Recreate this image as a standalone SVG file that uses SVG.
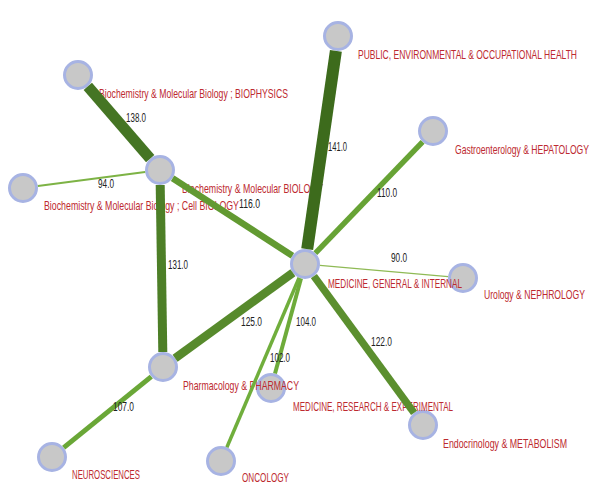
<svg xmlns="http://www.w3.org/2000/svg" width="591" height="484" viewBox="0 0 591 484">
<style>
.n{fill:#c8c8c8;stroke:#a7b3e3;stroke-width:3}
.t{font-family:"Liberation Sans",Arial,sans-serif;font-size:13px;fill:#bd2a30}
.e{fill:none;stroke-linecap:butt}
.w{font-family:"Liberation Sans",Arial,sans-serif;font-size:12px;fill:#222}
</style>
<rect width="591" height="484" fill="#fff"/>
<g id="node-biophysics"><circle class="n" cx="78" cy="75" r="13.5"/><text class="t" x="99" y="97.8" textLength="189" lengthAdjust="spacingAndGlyphs">Biochemistry &amp; Molecular Biology ; BIOPHYSICS</text></g>
<g id="node-cellbiology"><circle class="n" cx="23" cy="188" r="13.5"/><text class="t" x="44" y="209.8" textLength="195" lengthAdjust="spacingAndGlyphs">Biochemistry &amp; Molecular Biology ; Cell BIOLOGY</text></g>
<g id="node-biochem"><circle class="n" cx="160" cy="170" r="13.5"/><text class="t" x="182" y="192.8" textLength="141" lengthAdjust="spacingAndGlyphs">Biochemistry &amp; Molecular BIOLOGY</text></g>
<g id="node-publichealth"><circle class="n" cx="338" cy="36" r="13.5"/><text class="t" x="358" y="58.8" textLength="219" lengthAdjust="spacingAndGlyphs">PUBLIC, ENVIRONMENTAL &amp; OCCUPATIONAL HEALTH</text></g>
<g id="node-gastro"><circle class="n" cx="433" cy="131" r="13.5"/><text class="t" x="455" y="153.8" textLength="134" lengthAdjust="spacingAndGlyphs">Gastroenterology &amp; HEPATOLOGY</text></g>
<g id="node-urology"><circle class="n" cx="463" cy="278" r="13.5"/><text class="t" x="484" y="298.8" textLength="101" lengthAdjust="spacingAndGlyphs">Urology &amp; NEPHROLOGY</text></g>
<g id="node-medgeneral"><circle class="n" cx="305" cy="264" r="13.5"/><text class="t" x="328" y="287.8" textLength="134" lengthAdjust="spacingAndGlyphs">MEDICINE, GENERAL &amp; INTERNAL</text></g>
<g id="node-endocrinology"><circle class="n" cx="423" cy="425" r="13.5"/><text class="t" x="443" y="447.8" textLength="124" lengthAdjust="spacingAndGlyphs">Endocrinology &amp; METABOLISM</text></g>
<g id="node-medresearch"><circle class="n" cx="271" cy="388" r="13.5"/><text class="t" x="293" y="410.8" textLength="160" lengthAdjust="spacingAndGlyphs">MEDICINE, RESEARCH &amp; EXPERIMENTAL</text></g>
<g id="node-pharmacology"><circle class="n" cx="163" cy="367" r="13.5"/><text class="t" x="183" y="389.8" textLength="116" lengthAdjust="spacingAndGlyphs">Pharmacology &amp; PHARMACY</text></g>
<g id="node-neurosciences"><circle class="n" cx="52" cy="457" r="13.5"/><text class="t" x="72" y="478.8" textLength="68" lengthAdjust="spacingAndGlyphs">NEUROSCIENCES</text></g>
<g id="node-oncology"><circle class="n" cx="221" cy="461" r="13.5"/><text class="t" x="242" y="482" textLength="47" lengthAdjust="spacingAndGlyphs">ONCOLOGY</text></g>
<g id="connectors">
<line class="e" x1="87.8" y1="86.4" x2="150.2" y2="158.6" stroke="#457524" stroke-width="11"/>
<line class="e" x1="37.9" y1="186" x2="145.1" y2="172" stroke="#7db345" stroke-width="2"/>
<line class="e" x1="172.6" y1="178.2" x2="292.4" y2="255.8" stroke="#629a31" stroke-width="6.5"/>
<line class="e" x1="160.2" y1="185" x2="162.8" y2="352" stroke="#4d7f27" stroke-width="9"/>
<line class="e" x1="335.9" y1="50.8" x2="307.2" y2="249.2" stroke="#3d6b1c" stroke-width="12"/>
<line class="e" x1="422.6" y1="141.8" x2="315.4" y2="253.2" stroke="#67a335" stroke-width="5.5"/>
<line class="e" x1="448.1" y1="276.7" x2="319.9" y2="265.3" stroke="#8fba55" stroke-width="1.2"/>
<line class="e" x1="414.1" y1="412.9" x2="313.9" y2="276.1" stroke="#5b8f2e" stroke-width="7.5"/>
<line class="e" x1="175.1" y1="358.2" x2="292.9" y2="272.8" stroke="#578a2c" stroke-width="8.5"/>
<line class="e" x1="275" y1="373.5" x2="301" y2="278.5" stroke="#6eab3a" stroke-width="4"/>
<line class="e" x1="226.9" y1="447.2" x2="299.1" y2="277.8" stroke="#70ae3c" stroke-width="3.5"/>
<line class="e" x1="63.7" y1="447.6" x2="151.3" y2="376.6" stroke="#6aa737" stroke-width="5"/>
<text class="w" x="126" y="122.3" textLength="20" lengthAdjust="spacingAndGlyphs">138.0</text>
<text class="w" x="98" y="188.3" textLength="16" lengthAdjust="spacingAndGlyphs">94.0</text>
<text class="w" x="239" y="208.3" textLength="21" lengthAdjust="spacingAndGlyphs">116.0</text>
<text class="w" x="328" y="151.3" textLength="19" lengthAdjust="spacingAndGlyphs">141.0</text>
<text class="w" x="377" y="197.3" textLength="20" lengthAdjust="spacingAndGlyphs">110.0</text>
<text class="w" x="168" y="269.3" textLength="20" lengthAdjust="spacingAndGlyphs">131.0</text>
<text class="w" x="391" y="262.3" textLength="16" lengthAdjust="spacingAndGlyphs">90.0</text>
<text class="w" x="241" y="326.3" textLength="21" lengthAdjust="spacingAndGlyphs">125.0</text>
<text class="w" x="296" y="326.3" textLength="20" lengthAdjust="spacingAndGlyphs">104.0</text>
<text class="w" x="371" y="346.3" textLength="21" lengthAdjust="spacingAndGlyphs">122.0</text>
<text class="w" x="270" y="362.3" textLength="20" lengthAdjust="spacingAndGlyphs">102.0</text>
<text class="w" x="113" y="411.3" textLength="21" lengthAdjust="spacingAndGlyphs">107.0</text>
</g>
</svg>
